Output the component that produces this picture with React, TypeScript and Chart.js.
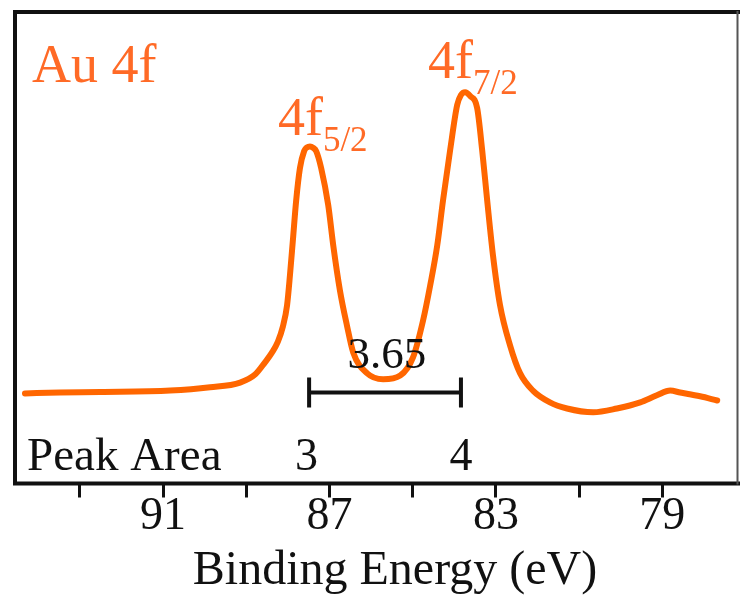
import { useEffect, useRef } from 'react';
import { Chart, registerables } from 'chart.js';

Chart.register(...registerables);

// ---- data ----
const bindingEnergy = [
  94.32, 93.48, 92.51, 90.83, 89.87, 89.15, 88.79, 88.55, 88.38, 88.24,
  88.12, 88.02, 87.95, 87.88, 87.8, 87.71, 87.61, 87.54, 87.47, 87.39,
  87.32, 87.2, 87.03, 86.91, 86.75, 86.58, 86.43, 86.1, 85.71, 85.3,
  84.99, 84.75, 84.58, 84.41, 84.27, 84.1, 83.93, 83.84, 83.74, 83.62,
  83.45, 83.33, 83.21, 83.07, 82.9, 82.66, 82.42, 82.11, 81.7, 81.29,
  80.66, 80.09, 79.53, 79.13, 78.81, 78.57, 78.09, 77.68,
];
const intensity = [
  19.1, 19.3, 19.4, 19.7, 20.4, 21.4, 23.1, 25.7, 27.8, 30.1,
  33.3, 37.8, 44.2, 51.6, 60.1, 66.9, 70.5, 71.3, 71.5, 71.2,
  70.5, 66.9, 59.0, 50.5, 41.0, 33.5, 27.8, 23.4, 22.1, 22.9,
  26.8, 34.6, 42.0, 50.5, 60.1, 70.7, 80.3, 82.4, 83.0, 82.2,
  79.6, 70.7, 60.1, 48.4, 37.8, 29.3, 23.4, 19.7, 17.2, 15.9,
  15.1, 15.9, 17.2, 18.7, 19.7, 19.3, 18.5, 17.6,
];

const xMin = 77.18;
const xMax = 94.56;
const yMin = 0;
const yMax = 100;
const tickValues = [93, 91, 89, 87, 85, 83, 81, 79];
const labeledTicks = [91, 87, 83, 79];
const axisTitle = 'Binding Energy (eV)';

const regionLabel = 'Au 4f';
const regionLabelPos = [94.15, 85.1];

const peakMain = ['4f', '4f'];
const peakSub = ['5/2', '7/2'];
const peakLabelE = [88.24, 84.63];
const peakLabelI = [73.9, 86.0];

const areaTitle = 'Peak Area';
const areaTitleE = 94.27;
const areaValues = ['3', '4'];
const areaE = [87.55, 83.84];
const areaI = 2.76;

const splitting = '3.65';
const splitBarE = [87.49, 83.84];
const splitBarI = 19.3;
const splitLabelE = 85.62;
const splitLabelI = 24.6;

// ---- style ----
const SERIF = '"Liberation Serif", "Times New Roman", serif';
const LINE_COLOR = '#ff6600';
const LABEL_COLOR = '#ff6a26';
const TEXT_COLOR = '#111111';

const framePlugin = {
  id: 'frame',
  afterDraw(chart: any) {
    const { ctx, chartArea: a } = chart;
    ctx.save();
    ctx.strokeStyle = '#111';
    ctx.lineWidth = 4;
    ctx.lineCap = 'square';
    ctx.beginPath();
    ctx.moveTo(a.right, a.top);
    ctx.lineTo(a.left, a.top);
    ctx.lineTo(a.left, a.bottom);
    ctx.lineTo(a.right, a.bottom);
    ctx.stroke();
    ctx.strokeStyle = '#555';
    ctx.lineWidth = 2;
    ctx.beginPath();
    ctx.moveTo(a.right - 0.5, a.top);
    ctx.lineTo(a.right - 0.5, a.bottom);
    ctx.stroke();
    // axis title
    ctx.fillStyle = TEXT_COLOR;
    ctx.font = `48px ${SERIF}`;
    ctx.textAlign = 'center';
    ctx.textBaseline = 'alphabetic';
    ctx.fillText(axisTitle, 395, 584);
    ctx.restore();
  },
};

const annotatePlugin = {
  id: 'annotate',
  afterDatasetsDraw(chart: any) {
    const { ctx } = chart;
    const x = chart.scales.x;
    const y = chart.scales.y;
    ctx.save();
    ctx.textBaseline = 'alphabetic';

    // region label
    ctx.fillStyle = LABEL_COLOR;
    ctx.textAlign = 'left';
    ctx.font = `54px ${SERIF}`;
    ctx.fillText(regionLabel, x.getPixelForValue(regionLabelPos[0]), y.getPixelForValue(regionLabelPos[1]));

    // peak labels with subscripts
    peakMain.forEach((m, i) => {
      const px = x.getPixelForValue(peakLabelE[i]);
      const py = y.getPixelForValue(peakLabelI[i]);
      ctx.font = `54px ${SERIF}`;
      ctx.fillText(m, px, py);
      const w = ctx.measureText(m).width;
      ctx.font = `35px ${SERIF}`;
      ctx.fillText(peakSub[i], px + w, py + 16);
    });

    // peak area row
    ctx.fillStyle = TEXT_COLOR;
    ctx.font = `47px ${SERIF}`;
    ctx.textAlign = 'left';
    ctx.fillText(areaTitle, x.getPixelForValue(areaTitleE), y.getPixelForValue(areaI));
    ctx.textAlign = 'center';
    ctx.font = `46px ${SERIF}`;
    areaValues.forEach((v, i) => {
      ctx.fillText(v, x.getPixelForValue(areaE[i]), y.getPixelForValue(areaI));
    });

    // splitting bar
    const bx1 = x.getPixelForValue(splitBarE[0]);
    const bx2 = x.getPixelForValue(splitBarE[1]);
    const by = y.getPixelForValue(splitBarI);
    ctx.strokeStyle = TEXT_COLOR;
    ctx.lineWidth = 4;
    ctx.lineCap = 'butt';
    ctx.beginPath();
    ctx.moveTo(bx1, by);
    ctx.lineTo(bx2, by);
    ctx.moveTo(bx1, by - 15);
    ctx.lineTo(bx1, by + 15);
    ctx.moveTo(bx2, by - 15);
    ctx.lineTo(bx2, by + 15);
    ctx.stroke();
    ctx.font = `45px ${SERIF}`;
    ctx.fillText(splitting, x.getPixelForValue(splitLabelE), y.getPixelForValue(splitLabelI));
    ctx.restore();
  },
};

export default function App() {
  const canvasRef = useRef<HTMLCanvasElement | null>(null);

  useEffect(() => {
    document.body.style.margin = '0';
    const canvas = canvasRef.current;
    if (!canvas) return;
    const chart = new Chart(canvas, {
      type: 'line',
      data: {
        datasets: [
          {
            data: bindingEnergy.map((e, i) => ({ x: e, y: intensity[i] })),
            borderColor: LINE_COLOR,
            borderWidth: 6,
            pointRadius: 0,
            fill: false,
            cubicInterpolationMode: 'monotone',
            borderCapStyle: 'round',
            borderJoinStyle: 'round',
          },
        ],
      },
      options: {
        animation: false,
        responsive: false,
        maintainAspectRatio: false,
        layout: { padding: { left: 15, right: 2, top: 12, bottom: 0 } },
        plugins: {
          legend: { display: false },
          tooltip: { enabled: false },
        },
        scales: {
          x: {
            type: 'linear',
            reverse: true,
            min: xMin,
            max: xMax,
            afterBuildTicks: (s: any) => {
              s.ticks = tickValues.map((v) => ({ value: v }));
            },
            afterFit: (s: any) => {
              s.height = 113.5;
            },
            grid: {
              display: true,
              drawOnChartArea: false,
              drawTicks: true,
              tickLength: 14,
              tickWidth: 3,
              tickColor: '#111',
            },
            border: { display: false },
            ticks: {
              autoSkip: false,
              maxRotation: 0,
              padding: -8,
              color: TEXT_COLOR,
              font: { family: SERIF, size: 46 },
              callback: (v: any) => (labeledTicks.includes(Number(v)) ? String(v) : ''),
            },
          },
          y: { display: false, min: yMin, max: yMax },
        },
      },
      plugins: [framePlugin, annotatePlugin],
    } as any);
    return () => chart.destroy();
  }, []);

  return (
    <div style={{ width: 740, height: 597, background: '#fff' }}>
      <canvas ref={canvasRef} width={740} height={597} style={{ display: 'block' }} />
    </div>
  );
}
